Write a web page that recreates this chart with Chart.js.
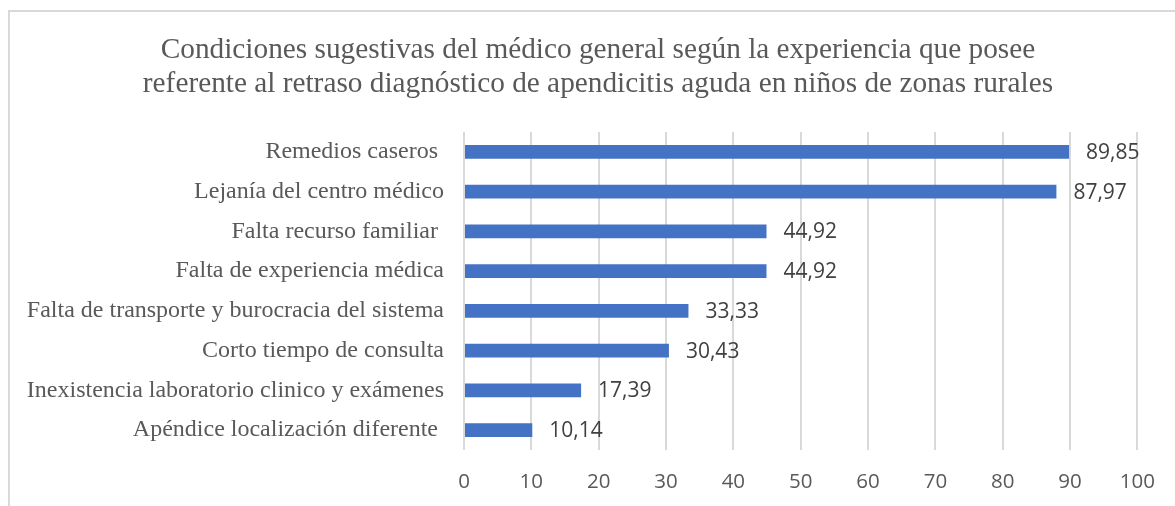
<!DOCTYPE html>
<html>
<head>
<meta charset="utf-8">
<script src="https://cdn.jsdelivr.net/npm/chart.js@4"></script>
<style>
    body { margin: 0; background: #fff; overflow: hidden; }
    #wrap { position: relative; width: 1175px; height: 506px; }
    #frame {
        position: absolute; left: 8px; top: 10px; width: 2000px; height: 2000px;
        border-left: 2px solid #d9d9d9; border-top: 2px solid #d9d9d9;
    }
    #myChart { position: absolute; left: 0; top: 0; }
</style>
</head>
<body>
<div id="wrap">
    <div id="frame"></div>
    <canvas id="myChart" width="1175" height="506"></canvas>
</div>
<script>
// Chart data
const titleLines = [
    "Condiciones sugestivas del médico general según la experiencia que posee",
    "referente al retraso diagnóstico de apendicitis aguda en niños de zonas rurales"
];
const categories = [
    "Remedios caseros ",
    "Lejanía del centro médico",
    "Falta recurso familiar ",
    "Falta de experiencia médica",
    "Falta de transporte y burocracia del sistema",
    "Corto tiempo de consulta",
    "Inexistencia laboratorio clinico y exámenes",
    "Apéndice localización diferente "
];
const values = [89.85, 87.97, 44.92, 44.92, 33.33, 30.43, 17.39, 10.14];
const xTicks = [0, 10, 20, 30, 40, 50, 60, 70, 80, 90, 100];

// Title drawn centred over the whole frame (not just the padded area)
const frameTitle = {
    id: "frameTitle",
    beforeDraw(chart) {
        const ctx = chart.ctx;
        ctx.save();
        ctx.font = "29.3px 'Liberation Serif'";
        ctx.fillStyle = "#595959";
        ctx.textAlign = "center";
        ctx.textBaseline = "middle";
        titleLines.forEach((line, i) => {
            ctx.fillText(line, 598, 50 + i * 34);
        });
        ctx.restore();
    }
};

// Draws the value next to the end of each bar
const valueLabels = {
    id: "valueLabels",
    afterDatasetsDraw(chart) {
        const ctx = chart.ctx;
        const meta = chart.getDatasetMeta(0);
        ctx.save();
        ctx.font = "21px 'Open Sans'";
        ctx.fillStyle = "#404040";
        ctx.textAlign = "left";
        ctx.textBaseline = "middle";
        meta.data.forEach((bar, i) => {
            const text = values[i].toFixed(2).replace(".", ",");
            ctx.fillText(text, bar.x + 17, bar.y + 1);
        });
        ctx.restore();
    }
};

const ctx = document.getElementById("myChart").getContext("2d");

new Chart(ctx, {
    type: "bar",
    data: {
        labels: categories,
        datasets: [
            {
                data: values,
                backgroundColor: "#4472C4",
                barPercentage: 0.35,
                categoryPercentage: 1
            }
        ]
    },
    options: {
        indexAxis: "y",
        responsive: false,
        animation: false,
        layout: {
            padding: { left: 12, right: 37, top: 132, bottom: 0 }
        },
        plugins: {
            legend: { display: false },
            tooltip: { enabled: false },
            title: { display: false }
        },
        scales: {
            x: {
                min: 0,
                max: 100,
                afterBuildTicks: scale => {
                    scale.ticks = xTicks.map(v => ({ value: v }));
                },
                afterFit: scale => {
                    scale.height = 56;
                },
                grid: { color: "#d9d9d9", lineWidth: 2, drawTicks: false },
                border: { display: false },
                ticks: {
                    color: "#595959",
                    padding: 20,
                    font: { family: "'Open Sans'", size: 20.5 }
                }
            },
            y: {
                afterFit: scale => {
                    scale.width = 464 - 12;
                },
                grid: { display: false, drawTicks: false },
                border: { display: false },
                ticks: {
                    color: "#595959",
                    padding: 20,
                    font: { family: "'Liberation Serif'", size: 24 }
                }
            }
        }
    },
    plugins: [frameTitle, valueLabels]
});
</script>
</body>
</html>
